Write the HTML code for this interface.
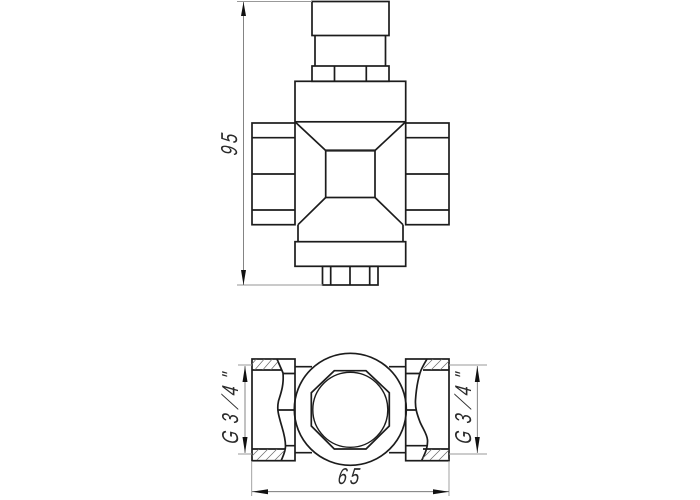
<!DOCTYPE html>
<html>
<head>
<meta charset="utf-8">
<style>
html,body{margin:0;padding:0;background:#fff;width:700px;height:500px;overflow:hidden}
svg{display:block}
text{font-family:"Liberation Sans",sans-serif;font-style:italic;fill:#2a2a2a;font-size:20px}
.m{fill:none;stroke:#1c1c1c;stroke-width:1.7}
.d{fill:none;stroke:#666;stroke-width:0.8}
.e{fill:none;stroke:#999;stroke-width:0.9}
.h{fill:none;stroke:#666;stroke-width:0.7}
.a{fill:#111;stroke:none}
</style>
</head>
<body>
<svg width="700" height="500" viewBox="0 0 700 500" xmlns="http://www.w3.org/2000/svg">
<defs>
<clipPath id="tl"><path d="M252 359H277L282 370H252Z"/></clipPath>
<clipPath id="bl"><path d="M252 449H285L281 460H252Z"/></clipPath>
<clipPath id="tr"><path d="M449 359H427L423 370H449Z"/></clipPath>
<clipPath id="br"><path d="M449 449H426L422 460H449Z"/></clipPath>
</defs>

<!-- top view -->
<g class="m">
<rect x="312" y="1.500" width="77" height="34"/>
<path d="M315 35.500V66M385.500 35.500V66"/>
<rect x="312" y="66" width="77" height="15.300"/>
<path d="M334.500 66V81M366.300 66V81"/>
<rect x="295" y="81.300" width="110.700" height="40.500"/>
<rect x="252" y="123" width="43" height="101.700"/>
<path d="M252 137.700H295M252 174H295M252 210H295"/>
<rect x="405.700" y="123" width="43.300" height="101.700"/>
<path d="M405.700 137.700H449M405.700 174H449M405.700 210H449"/>
<rect x="325.700" y="150.500" width="49.300" height="47"/>
<path d="M295 121.800L325.700 150.500M405.700 121.800L375 150.500M325.700 197.500L298 224.700M375 197.500L403 224.700"/>
<path d="M298 224.700V241.700M403 224.700V241.700"/>
<rect x="295" y="241.700" width="110.700" height="24.600"/>
<rect x="322.500" y="266.300" width="55.500" height="18.700"/>
<path d="M330.700 266.300V285M350 266.300V285M369.700 266.300V285"/>
</g>
<path d="M325.700 150.500H375" stroke="#222" stroke-width="2.200" fill="none"/>

<!-- 95 dim -->
<path class="e" d="M237 1.500H312"/>
<path d="M237 285H322.500" fill="none" stroke="#aaa" stroke-width="1.200"/>
<path class="d" d="M243.500 2V285"/>
<path class="a" d="M243.500 2L246 16H241Z"/>
<path class="a" d="M243.500 285L246 270H241Z"/>
<text transform="translate(237 156) rotate(-90) skewX(-8) scale(.82 1.15)" x="0 15">95</text>

<!-- bottom view -->
<g class="m">
<path d="M295 366.700H312M295 452.700H312M389 366.700H406M389 452.700H406"/>
<circle cx="350.300" cy="409.300" r="56" fill="#fff"/>
<path d="M334.300 370.700H366L389.300 392.700V426L366 449H334.300L311.300 426V392.700Z"/>
<circle cx="350.300" cy="409.800" r="37.500" stroke-width="1.400"/>

<rect x="252" y="359" width="43" height="101.700"/>
<path d="M252 370H282M252 449H285"/>
<path d="M277 359C279 364 281 368 283 373C284 385 281 393 278.500 401C277 408 278 413 280 420C282 428 285.500 436 285.500 446C285.500 452 283 456 281 461"/>
<path d="M283 373.500H295M278 410H295M285.500 445.700H295"/>

<rect x="405.700" y="359" width="43.300" height="101.700"/>
<path d="M423 370H449M423 449H449"/>
<path d="M427 359C424 364 421.500 368 420 373C417 383 416 392 415.500 400C415 408 417 414 420 422C423 429 427 434 427.500 440C428 449 424 455 421.500 461"/>
<path d="M406 373.500H420M406 410H415.500M406 445.700H427"/>
</g>
<g class="h" clip-path="url(#tl)"><path d="M253 372L266 357M261 372L274 357M269 372L282 357M245 372L258 357"/></g>
<g class="h" clip-path="url(#bl)"><path d="M246 462L261 447M255 462L270 447M264 462L279 447M273 462L288 447"/></g>
<g class="h" clip-path="url(#tr)"><path d="M420 372L435 357M429 372L444 357M438 372L453 357"/></g>
<g class="h" clip-path="url(#br)"><path d="M419 462L434 447M428 462L443 447M437 462L452 447M446 462L455 453"/></g>

<!-- G 3/4 left -->
<path class="e" d="M238 365H252M238 454H252"/>
<path class="d" d="M245 366V453"/>
<path class="a" d="M245 366L247.500 382H242.500Z"/>
<path class="a" d="M245 453L247.500 437H242.500Z"/>
<text transform="translate(238 444.500) rotate(-90) skewX(-8) scale(.82 1.15)" x="0 25 59 79">G34"</text>
<text transform="translate(238 409) rotate(-90) skewX(-30) scale(.82 1.15)">/</text>

<!-- G 3/4 right -->
<path class="e" d="M449 365H487M449 454H487"/>
<path class="d" d="M477.300 366V453"/>
<path class="a" d="M477.300 366L479.800 382H474.800Z"/>
<path class="a" d="M477.300 453L479.800 437H474.800Z"/>
<text transform="translate(471 444.500) rotate(-90) skewX(-8) scale(.82 1.15)" x="0 25 59 79">G34"</text>
<text transform="translate(471 409) rotate(-90) skewX(-30) scale(.82 1.15)">/</text>

<!-- 65 dim -->
<path class="e" d="M251.700 461V496M449 461V496"/>
<path class="d" d="M252 491.700H449"/>
<path class="a" d="M252 491.700L268 489.200V494.200Z"/>
<path class="a" d="M449 491.700L433 489.200V494.200Z"/>
<text transform="translate(337 484) skewX(-8) scale(.82 1.15)" x="0 15">65</text>
</svg>
</body>
</html>
